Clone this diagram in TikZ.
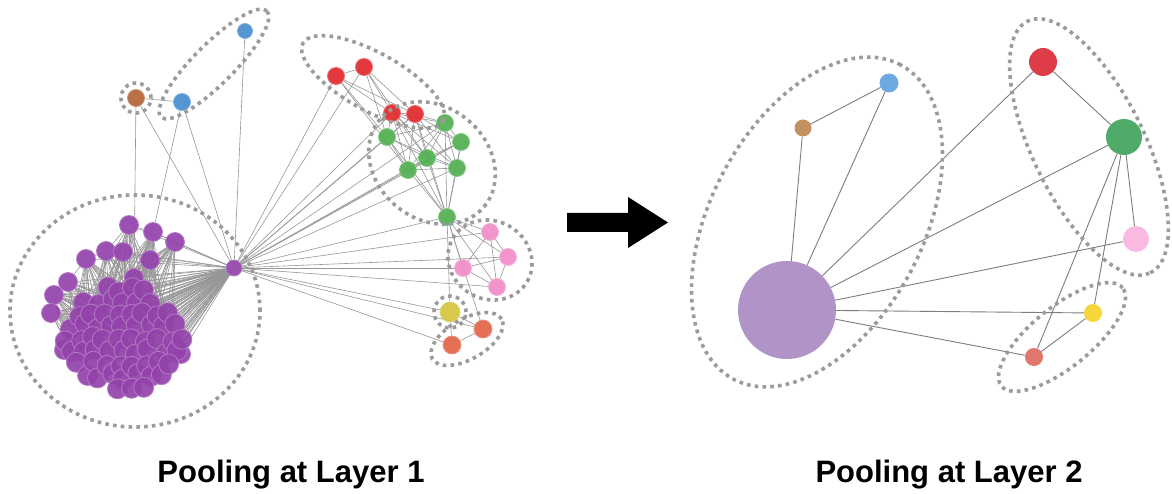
\documentclass[tikz,border=0pt]{standalone}
\usepackage{fontspec}
\setmainfont{Liberation Sans}
\pgfdeclarelayer{edgelayer}
\pgfsetlayers{edgelayer,main}
\definecolor{dotgray}{RGB}{155,155,155}
\definecolor{ledgec}{RGB}{150,150,150}
\definecolor{redgec}{RGB}{125,125,125}
\definecolor{Lblue}{RGB}{70,140,205}
\definecolor{Lbrown}{RGB}{178,100,55}
\definecolor{Lpurple}{RGB}{146,66,170}
\definecolor{Lred}{RGB}{225,40,45}
\definecolor{Lgreen}{RGB}{80,175,80}
\definecolor{Lpink}{RGB}{240,140,200}
\definecolor{Lyellow}{RGB}{212,196,60}
\definecolor{Lorange}{RGB}{225,100,70}
\definecolor{Rpurple}{RGB}{176,148,200}
\definecolor{Rblue}{RGB}{110,170,225}
\definecolor{Rbrown}{RGB}{195,145,95}
\definecolor{Rred}{RGB}{222,60,70}
\definecolor{Rgreen}{RGB}{80,170,105}
\definecolor{Rpink}{RGB}{250,185,225}
\definecolor{Ryellow}{RGB}{245,215,60}
\definecolor{Rsalmon}{RGB}{225,120,110}
\begin{document}
\begin{tikzpicture}[x=1pt,y=-1pt,
  vtx/.style={circle,inner sep=0pt,minimum size=#1,line width=0.8pt},
  lv/.style={vtx=17pt,fill=#1,draw=#1!70!white,fill opacity=0.92},
  rv/.style={circle,inner sep=0pt,fill=#1,draw=none},
  ledge/.style={draw=ledgec,line width=0.6pt},
  redge/.style={draw=redgec,line width=0.9pt},
  dotring/.style={draw=dotgray,line width=3.6pt,dash pattern=on 3.6pt off 4.2pt},
  lbl/.style={font=\fontsize{31}{36}\selectfont\bfseries,anchor=base,inner sep=0pt}]
\useasboundingbox (0,0) rectangle (1172,494);

% ---------- Left graph: nodes ----------
\node[lv=Lblue,vtx=15pt] (b1) at (245,31) {};
\node[lv=Lblue] (b2) at (182,102) {};
\node[lv=Lbrown] (br) at (136,98) {};
\node[lv=Lpurple,vtx=16pt] (hub) at (234,268) {};
\node[lv=Lred] (r1) at (336,76) {};
\node[lv=Lred] (r2) at (364,67) {};
\node[lv=Lred] (r3) at (392,113) {};
\node[lv=Lred] (r4) at (415,114) {};
\node[lv=Lgreen] (g1) at (387,137) {};
\node[lv=Lgreen] (g2) at (445,123) {};
\node[lv=Lgreen] (g3) at (461,142) {};
\node[lv=Lgreen] (g4) at (427,158) {};
\node[lv=Lgreen] (g5) at (408,170) {};
\node[lv=Lgreen] (g6) at (457,168) {};
\node[lv=Lgreen] (g7) at (447,217) {};
\node[lv=Lpink] (k1) at (490,232) {};
\node[lv=Lpink] (k2) at (508,257) {};
\node[lv=Lpink] (k3) at (463,268) {};
\node[lv=Lpink] (k4) at (497,287) {};
\node[lv=Lyellow,vtx=20pt] (ye) at (450,312) {};
\node[lv=Lorange,vtx=18pt] (o1) at (483,329) {};
\node[lv=Lorange,vtx=18pt] (o2) at (452,345) {};

% outer cluster nodes
\foreach \n/\px/\py in {c1/129/225,c2/153/232,c3/175/242,c4/106/251,c5/123/252,c6/86/259,
  c7/150/260,c8/134/278,c9/68/282,c10/54/295,c11/51/313,c12/181/354,c13/64/350}{
  \node[lv=Lpurple,vtx=19pt] (\n) at (\px,\py) {};
  \begin{pgfonlayer}{edgelayer}\draw[ledge] (hub) -- (\n);\end{pgfonlayer}
}

% inner cluster nodes
\pgfmathsetseed{23}
\foreach \i in {0,...,9}{
  \foreach \j in {0,...,8}{
    \pgfmathsetmacro{\px}{66+\i*13+mod(\j,2)*6+rand*3}
    \pgfmathsetmacro{\py}{289+\j*12.5+rand*3}
    \pgfmathtruncatemacro{\ins}{((\px-123)/60)^2+((\py-338)/53)^2<1 ? 1 : 0}
    \ifnum\ins=1
      \node[lv=Lpurple,vtx=20pt] (p-\i-\j) at (\px,\py) {};
      \begin{pgfonlayer}{edgelayer}
        \draw[ledge] (hub) -- (p-\i-\j);
        \foreach \o in {c1,c2,c3,c4,c5,c6,c7,c8,c9,c10,c11}{
          \pgfmathtruncatemacro{\pick}{rnd<0.3 ? 1 : 0}
          \ifnum\pick=1 \draw[ledge] (\o) -- (p-\i-\j);\fi
        }
      \end{pgfonlayer}
    \fi
  }
}

% ---------- Left graph: edges ----------
\begin{pgfonlayer}{edgelayer}
\foreach \a/\b in {br/b2,br/hub,br/c8,b2/c2,b2/hub,b1/hub,
  c1/c2,c2/c3,c1/c5,c4/c5,c4/c6,c5/c7,c2/c7,c3/c7,c6/c9,c9/c10,c10/c11,c1/c4,c3/c8,c5/c8,
  r1/r2,r1/r3,r1/r4,r2/r3,r2/r4,r3/r4,r1/g1,r2/g1,r1/g5,r2/g4,
  r3/g1,r3/g2,r3/g3,r3/g4,r3/g5,r3/g6,r3/g7,r4/g1,r4/g2,r4/g3,r4/g4,r4/g5,r4/g6,r4/g7,
  g1/g2,g1/g4,g1/g5,g1/g6,g1/g7,g2/g3,g2/g4,g2/g5,g2/g6,g3/g4,g3/g6,g3/g5,g4/g5,g4/g6,
  g4/g7,g5/g6,g5/g7,g6/g7,g2/g7,g3/g7,
  g7/k1,g7/k2,g7/k3,g7/k4,g7/ye,g7/o1,
  k1/k2,k1/k3,k1/k4,k2/k3,k2/k4,k3/k4,ye/o1,ye/o2,o1/o2}{
  \draw[ledge] (\a) -- (\b);
}
\foreach \t in {r1,r2,r3,r4,g1,g2,g3,g4,g5,g6,g7,k1,k2,k3,k4,ye,o1,o2}{
  \draw[ledge] (hub) -- (\t);
}
\end{pgfonlayer}

% ---------- Left graph: dotted groups ----------
\draw[dotring] (135,311) ellipse [x radius=125pt, y radius=116pt];
\draw[dotring] (136,98) circle [radius=15pt];
\draw[dotring, rotate around={45:(214,64)}] (214,64) ellipse [x radius=75pt, y radius=20pt];
\draw[dotring, rotate around={-29:(373,82)}] (373,82) ellipse [x radius=80pt, y radius=29pt];
\draw[dotring, rotate around={-40:(432,163)}] (432,163) ellipse [x radius=68pt, y radius=56pt];
\draw[dotring, rotate around={-30:(490,260)}] (490,260) ellipse [x radius=43pt, y radius=39pt];
\draw[dotring] (450,312) circle [radius=16pt];
\draw[dotring, rotate around={30:(467,339)}] (467,339) ellipse [x radius=40pt, y radius=20pt];

% ---------- Arrow ----------
\fill[black] (567,213) -- (628,213) -- (628,197) -- (668,222.5) -- (628,248) -- (628,232) -- (567,232) -- cycle;

% ---------- Right graph ----------
\node[rv=Rpurple,minimum size=98pt] (P) at (787,310) {};
\node[rv=Rblue,minimum size=19pt] (B) at (889,83) {};
\node[rv=Rbrown,minimum size=17pt] (Br) at (803,128) {};
\node[rv=Rred,minimum size=28pt] (R) at (1043,62) {};
\node[rv=Rgreen,minimum size=36pt] (G) at (1124,137) {};
\node[rv=Rpink,minimum size=26pt] (K) at (1136,239) {};
\node[rv=Ryellow,minimum size=18pt] (Y) at (1093,313) {};
\node[rv=Rsalmon,minimum size=18pt] (S) at (1034,357) {};
\begin{pgfonlayer}{edgelayer}
\foreach \a/\b in {Br/B,Br/P,B/P,P/R,P/G,P/K,P/Y,P/S,R/G,G/K,G/Y,G/S,Y/S}{
  \draw[redge] (\a) -- (\b);
}
\end{pgfonlayer}
\draw[dotring, rotate around={62:(817,222)}] (817,222) ellipse [x radius=178pt, y radius=106pt];
\draw[dotring, rotate around={-64:(1089,147)}] (1089,147) ellipse [x radius=140pt, y radius=56pt];
\draw[dotring, rotate around={39:(1062,337)}] (1062,337) ellipse [x radius=78pt, y radius=30pt];

% ---------- Labels ----------
\node[lbl] (t1) at (291,482) {Pooling at Layer 1};
\node[lbl] (t2) at (949,482) {Pooling at Layer 2};
\end{tikzpicture}
\end{document}
